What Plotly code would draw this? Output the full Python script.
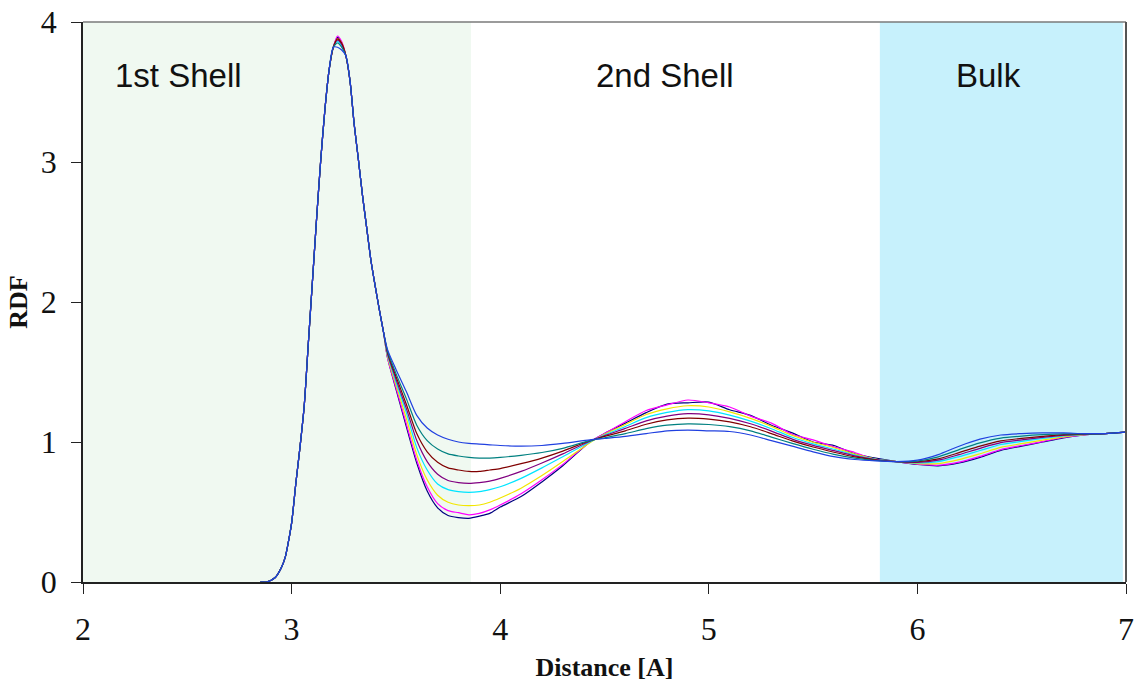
import plotly.graph_objects as go

# ---- data ----
# rising edge, shared by all series (curves coincide here)
SHARED_X = [2.85, 2.88, 2.92, 2.95, 2.97, 2.98, 3.00, 3.02, 3.04, 3.06, 3.08, 3.10, 3.12, 3.14, 3.16, 3.18, 3.20]
SHARED_Y = [0.0, 0.0, 0.03, 0.10, 0.18, 0.25, 0.42, 0.70, 0.96, 1.25, 1.70, 2.15, 2.60, 3.02, 3.38, 3.66, 3.82]

TAIL_X = [3.22, 3.24, 3.26, 3.28, 3.30, 3.32, 3.34, 3.36, 3.38, 3.40, 3.42, 3.44,
          3.46, 3.50, 3.55, 3.60, 3.65, 3.70, 3.75, 3.80, 3.85, 3.90, 3.95, 4.00,
          4.10, 4.20, 4.30, 4.43,
          4.50, 4.60, 4.70, 4.80, 4.90, 5.00, 5.10, 5.20, 5.30, 5.40, 5.50, 5.60, 5.70, 5.80,
          5.90, 6.00, 6.10, 6.20, 6.30, 6.40, 6.50, 6.60, 6.70, 6.80, 6.90, 7.00]

NAVY = [3.89, 3.85, 3.76, 3.58, 3.27, 3.02, 2.76, 2.53, 2.30, 2.12, 1.95, 1.79,
        1.60, 1.38, 1.11, 0.85, 0.65, 0.53, 0.475, 0.46, 0.455, 0.47, 0.49, 0.535,
        0.61, 0.715, 0.83, 1.00,
        1.06, 1.135, 1.21, 1.27, 1.28, 1.285, 1.23, 1.19, 1.12, 1.065, 1.00, 0.975, 0.915, 0.885,
        0.86, 0.84, 0.83, 0.85, 0.89, 0.94, 0.97, 1.00, 1.03, 1.05, 1.06, 1.07]
MAGENTA = [3.90, 3.86, 3.76, 3.58, 3.27, 3.02, 2.76, 2.53, 2.30, 2.12, 1.95, 1.79,
           1.60, 1.39, 1.13, 0.87, 0.68, 0.56, 0.51, 0.495, 0.48, 0.49, 0.515, 0.55,
           0.63, 0.73, 0.84, 1.00,
           1.06, 1.145, 1.225, 1.265, 1.30, 1.28, 1.25, 1.185, 1.135, 1.055, 1.015, 0.965, 0.925, 0.875,
           0.86, 0.842, 0.834, 0.856, 0.897, 0.946, 0.975, 1.003, 1.032, 1.05, 1.06, 1.07]
YELLOW = [3.88, 3.85, 3.76, 3.58, 3.27, 3.02, 2.76, 2.53, 2.30, 2.12, 1.95, 1.79,
          1.61, 1.41, 1.17, 0.91, 0.73, 0.62, 0.57, 0.55, 0.545, 0.55, 0.57, 0.60,
          0.67, 0.76, 0.86, 0.995,
          1.055, 1.125, 1.196, 1.237, 1.259, 1.25, 1.215, 1.169, 1.112, 1.047, 0.998, 0.959, 0.913, 0.878,
          0.86, 0.846, 0.846, 0.874, 0.916, 0.962, 0.988, 1.013, 1.037, 1.052, 1.06, 1.07]
CYAN = [3.86, 3.83, 3.76, 3.58, 3.27, 3.02, 2.76, 2.53, 2.30, 2.12, 1.95, 1.79,
        1.62, 1.43, 1.21, 0.96, 0.80, 0.70, 0.66, 0.645, 0.64, 0.645, 0.66, 0.68,
        0.74, 0.815, 0.895, 1.00,
        1.05, 1.111, 1.174, 1.211, 1.231, 1.222, 1.192, 1.149, 1.095, 1.034, 0.987, 0.948, 0.907, 0.876,
        0.86, 0.851, 0.86, 0.896, 0.939, 0.982, 1.004, 1.025, 1.043, 1.054, 1.06, 1.07]
PURPLE = [3.87, 3.84, 3.76, 3.58, 3.27, 3.02, 2.76, 2.53, 2.30, 2.12, 1.95, 1.79,
          1.63, 1.45, 1.24, 1.01, 0.86, 0.77, 0.725, 0.71, 0.705, 0.71, 0.72, 0.74,
          0.79, 0.85, 0.915, 1.005,
          1.045, 1.097, 1.151, 1.185, 1.202, 1.194, 1.169, 1.13, 1.078, 1.021, 0.976, 0.938, 0.901, 0.874,
          0.86, 0.855, 0.87, 0.91, 0.955, 0.995, 1.015, 1.033, 1.048, 1.055, 1.06, 1.07]
DARKRED = [3.88, 3.85, 3.76, 3.58, 3.27, 3.02, 2.76, 2.53, 2.30, 2.12, 1.95, 1.79,
           1.64, 1.47, 1.27, 1.06, 0.93, 0.855, 0.815, 0.80, 0.79, 0.79, 0.80, 0.81,
           0.845, 0.885, 0.935, 1.01,
           1.04, 1.08, 1.127, 1.158, 1.171, 1.164, 1.144, 1.109, 1.06, 1.008, 0.964, 0.927, 0.894, 0.871,
           0.86, 0.859, 0.88, 0.924, 0.971, 1.008, 1.026, 1.04, 1.052, 1.056, 1.06, 1.07]
TEAL = [3.85, 3.82, 3.76, 3.58, 3.27, 3.02, 2.76, 2.53, 2.30, 2.12, 1.95, 1.79,
        1.65, 1.49, 1.31, 1.12, 1.01, 0.95, 0.915, 0.90, 0.89, 0.885, 0.885, 0.89,
        0.905, 0.925, 0.955, 1.01,
        1.03, 1.06, 1.095, 1.12, 1.13, 1.125, 1.11, 1.08, 1.035, 0.99, 0.948, 0.912, 0.885, 0.868,
        0.86, 0.864, 0.894, 0.946, 0.994, 1.028, 1.042, 1.052, 1.058, 1.058, 1.06, 1.07]
BLUE = [3.82, 3.80, 3.76, 3.58, 3.27, 3.02, 2.76, 2.53, 2.30, 2.12, 1.95, 1.79,
        1.66, 1.52, 1.36, 1.19, 1.10, 1.05, 1.02, 1.00, 0.99, 0.985, 0.98, 0.975,
        0.97, 0.975, 0.99, 1.015,
        1.025, 1.04, 1.06, 1.08, 1.085, 1.08, 1.075, 1.05, 1.01, 0.97, 0.93, 0.895, 0.875, 0.865,
        0.86, 0.87, 0.91, 0.97, 1.02, 1.05, 1.06, 1.065, 1.065, 1.06, 1.06, 1.07]

SERIES = [NAVY, MAGENTA, YELLOW, CYAN, PURPLE, DARKRED, TEAL, BLUE]
COLORS = ["#000080", "#FF00FF", "#F2E600", "#00E5FF", "#800080", "#800000", "#008080", "#2040E0"]

REGIONS = [("1st Shell", 2.0, 3.86, "#F0F9F1"), ("2nd Shell", 3.86, 5.82, None), ("Bulk", 5.82, 6.985, "#C7F1FC")]
LABEL_X = [2.46, 4.79, 6.34]

X_TICKS = [2, 3, 4, 5, 6, 7]
Y_TICKS = [0, 1, 2, 3, 4]

fig = go.Figure()

for (name, x0, x1, col) in REGIONS:
    if col:
        fig.add_shape(type="rect", x0=x0, x1=x1, y0=0, y1=4, xref="x", yref="y",
                      fillcolor=col, line_width=0, layer="below")

for ys, c in zip(SERIES, COLORS):
    fig.add_trace(go.Scatter(x=SHARED_X + TAIL_X, y=SHARED_Y + ys, mode="lines",
                             line=dict(color=c, width=1.2, shape="spline", smoothing=0.7),
                             showlegend=False, hoverinfo="skip"))

for (name, x0, x1, col), lx in zip(REGIONS, LABEL_X):
    fig.add_annotation(x=lx, y=3.62, text=name, showarrow=False, xref="x", yref="y",
                       font=dict(family="Liberation Sans, Arial", size=33, color="#111111"))

# top and right frame lines
fig.add_shape(type="line", x0=0, x1=1, y0=1, y1=1, xref="paper", yref="paper",
              line=dict(color="#7a7a7a", width=1.5))
fig.add_shape(type="line", x0=1, x1=1, y0=0, y1=1, xref="paper", yref="paper",
              line=dict(color="#555555", width=2))

fig.update_layout(
    width=1139, height=682,
    margin=dict(l=83, r=13, t=22, b=100),
    paper_bgcolor="white", plot_bgcolor="white",
    font=dict(family="Liberation Serif, Times New Roman", color="#111111"),
)
fig.update_xaxes(range=[2, 7], tickvals=X_TICKS, showgrid=False, zeroline=False, automargin=False,
                 showline=True, linecolor="#222222", linewidth=1.5,
                 ticks="outside", ticklen=10, tickcolor="#222222", ticklabelstandoff=8,
                 tickfont=dict(size=32, family="Liberation Serif"),
                 title=dict(text="<b>Distance [A]</b>", font=dict(size=26, family="Liberation Serif"), standoff=12))
fig.update_yaxes(range=[0, 4], tickvals=Y_TICKS, showgrid=False, zeroline=False, automargin=False,
                 showline=True, linecolor="#222222", linewidth=1.5,
                 ticks="outside", ticklen=10, tickcolor="#222222", ticklabelstandoff=8,
                 tickfont=dict(size=32, family="Liberation Serif"),
                 title=dict(text="<b>RDF</b>", font=dict(size=26, family="Liberation Serif"), standoff=6))

fig.write_html("out.html")
